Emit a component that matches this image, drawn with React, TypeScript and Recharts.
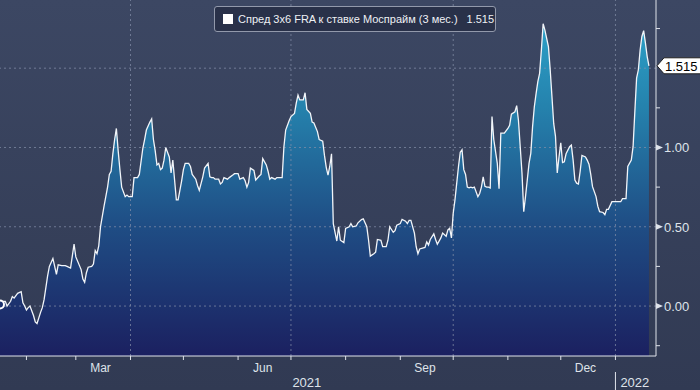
import { ComposedChart, Area, Line, XAxis, YAxis, ReferenceLine } from "recharts";

// days counted from 1 Jan 2021
const days = [
    16, 18, 19, 20, 22, 23, 24, 26, 28, 29,
    30, 31, 32, 33, 35, 36, 37, 39, 40, 41,
    43, 44, 46, 47, 48, 49, 51, 53, 54, 56,
    57, 58, 59, 62, 63, 64, 65, 66, 68, 69,
    70, 71, 72, 73, 75, 76, 77, 78, 79, 80,
    81, 82, 83, 84, 85, 87, 88, 89, 91, 92,
    94, 95, 97, 98, 99, 101, 102, 103, 104, 105,
    106, 107, 108, 109, 110, 111, 112, 113, 114, 116,
    117, 119, 120, 121, 123, 124, 125, 127, 128, 129,
    131, 132, 134, 135, 136, 137, 138, 140, 141, 142,
    143, 145, 146, 148, 149, 151, 152, 154, 155, 156,
    157, 158, 160, 161, 163, 164, 165, 167, 168, 169,
    170, 172, 173, 175, 176, 177, 178, 180, 181, 183,
    184, 185, 186, 188, 189, 190, 192, 193, 194, 196,
    197, 199, 200, 201, 202, 203, 204, 205, 207, 208,
    209, 211, 212, 214, 215, 216, 218, 219, 221, 222,
    224, 225, 226, 228, 229, 230, 232, 233, 235, 236,
    237, 239, 240, 241, 243, 244, 246, 247, 248, 249,
    251, 252, 253, 254, 257, 258, 259, 260, 262, 263,
    264, 266, 267, 269, 270, 271, 272, 273, 274, 275,
    276, 277, 278, 279, 280, 281, 282, 283, 284, 285,
    287, 288, 289, 290, 291, 292, 293, 294, 295, 296,
    298, 299, 300, 302, 304, 305, 306, 308, 309, 310,
    311, 312, 313, 314, 316, 317, 318, 319, 320, 321,
    322, 323, 324, 325, 327, 328, 329, 330, 331, 332,
    333, 334, 335, 336, 337, 339, 340, 341, 342, 343,
    344, 345, 346, 348, 349, 350, 351, 352, 354, 355,
    356, 358, 359, 360, 361, 363, 364, 366, 368, 369,
    371, 372, 374, 375, 376, 377, 378, 379, 380, 381,
    382, 383, 384
];

const spread = [
    0.01, 0.03, 0.03, 0.00, 0.03, 0.06, 0.05, 0.08, 0.09, 0.02,
    0.00, -0.025, -0.01, 0.00, -0.06, -0.10, -0.11, -0.04, -0.01, 0.04,
    0.19, 0.25, 0.30, 0.25, 0.20, 0.26, 0.255, 0.255, 0.25, 0.24,
    0.315, 0.39, 0.31, 0.23, 0.17, 0.15, 0.21, 0.245, 0.25, 0.265,
    0.35, 0.33, 0.38, 0.50, 0.63, 0.69, 0.75, 0.83, 0.85, 0.96,
    1.05, 1.12, 0.98, 0.86, 0.75, 0.69, 0.70, 0.69, 0.69, 0.81,
    0.81, 0.83, 0.995, 1.05, 1.11, 1.16, 1.18, 1.05, 0.98, 0.89,
    0.90, 0.86, 0.87, 0.92, 1.00, 0.97, 0.94, 0.84, 0.92, 0.67,
    0.67, 0.79, 0.86, 0.90, 0.90, 0.88, 0.83, 0.80, 0.76, 0.73,
    0.815, 0.87, 0.90, 0.815, 0.81, 0.81, 0.80, 0.80, 0.77, 0.78,
    0.81, 0.80, 0.81, 0.826, 0.835, 0.835, 0.80, 0.81, 0.79, 0.75,
    0.78, 0.87, 0.855, 0.795, 0.82, 0.83, 0.93, 0.89, 0.85, 0.80,
    0.81, 0.80, 0.81, 0.81, 0.81, 1.005, 1.11, 1.17, 1.195, 1.215,
    1.28, 1.33, 1.30, 1.30, 1.345, 1.24, 1.215, 1.16, 1.155, 1.10,
    1.05, 1.04, 0.95, 0.875, 0.826, 0.88, 0.96, 0.52, 0.41, 0.50,
    0.415, 0.40, 0.49, 0.50, 0.52, 0.50, 0.505, 0.525, 0.545, 0.55,
    0.50, 0.415, 0.315, 0.33, 0.34, 0.42, 0.415, 0.375, 0.375, 0.415,
    0.50, 0.465, 0.475, 0.51, 0.52, 0.547, 0.535, 0.52, 0.54, 0.54,
    0.46, 0.374, 0.33, 0.36, 0.37, 0.405, 0.385, 0.42, 0.455, 0.42,
    0.39, 0.43, 0.46, 0.44, 0.48, 0.49, 0.43, 0.585, 0.67, 0.775,
    0.88, 0.97, 0.985, 0.86, 0.83, 0.75, 0.745, 0.75, 0.745, 0.75,
    0.69, 0.71, 0.75, 0.815, 0.755, 0.75, 0.75, 0.745, 1.195, 1.05,
    0.90, 0.74, 1.09, 1.09, 1.12, 1.14, 1.21, 1.225, 1.264, 1.17,
    1.005, 0.84, 0.595, 0.69, 0.90, 0.963, 1.13, 1.257, 1.34, 1.415,
    1.468, 1.615, 1.78, 1.74, 1.636, 1.49, 1.32, 1.15, 1.07, 0.84,
    0.94, 1.03, 0.905, 0.91, 0.96, 1.005, 1.015, 0.92, 0.795, 0.775,
    0.77, 0.85, 0.95, 0.94, 0.92, 0.895, 0.83, 0.753, 0.69, 0.63,
    0.595, 0.59, 0.576, 0.61, 0.61, 0.658, 0.658, 0.658, 0.658, 0.677,
    0.677, 0.88, 0.92, 1.005, 1.226, 1.437, 1.49, 1.615, 1.70, 1.737,
    1.66, 1.573, 1.515
];

const monthStarts = [31, 59, 90, 120, 151, 181, 212, 243, 273, 304, 334, 365];
const monthLabelDays = [73, 165, 257, 348];
const monthLabels = ["Mar", "Jun", "Sep", "Dec"];
const yearLabelDays = [190, 376];
const yearLabels = ["2021", "2022"];
const quarterStarts = [90, 181, 273, 365];

const gridValues = [0, 0.5, 1, 1.5];
const majorTicks = [0, 0.5, 1];
const minorTicks = [-0.25, 0.25, 0.75, 1.25, 1.75];

const seriesName = "Спред 3x6 FRA к ставке Моспрайм (3 мес.)";

const data = days.map((d, i) => ({ day: d, value: spread[i] }));
const lastValue = spread[spread.length - 1];

const axisColor = "#dfe3ea";
const font = "'Liberation Sans', Arial, sans-serif";

function XTick(props: any) {
    const { x, y, payload } = props;
    const v = payload.value;
    if (monthStarts.includes(v)) {
        return (
            <g>
                <line x1={x} x2={x} y1={y} y2={y + 4} stroke={axisColor}/>
                {v === 365 && <line x1={x} x2={x} y1={y + 16} y2={y + 34} stroke={axisColor}/>}
            </g>
        );
    }
    const m = monthLabelDays.indexOf(v);
    if (m >= 0) {
        return (
            <text x={x} y={y + 16} textAnchor="middle" fill={axisColor} fontSize={12} fontFamily={font}>
                {monthLabels[m]}
            </text>
        );
    }
    const yr = yearLabelDays.indexOf(v);
    if (yr >= 0) {
        return (
            <text x={x} y={y + 31} textAnchor="middle" fill={axisColor} fontSize={13} fontFamily={font}>
                {yearLabels[yr]}
            </text>
        );
    }
    return <g/>;
}

function YTick(props: any) {
    const { x, y, payload } = props;
    const v = payload.value;
    if (v === lastValue) {
        const pts = `${x + 1},${y} ${x + 8},${y - 8} ${x + 50},${y - 8} ${x + 50},${y + 8} ${x + 8},${y + 8}`;
        return (
            <g>
                <polygon points={pts} fill="#ffffff" stroke="#222"/>
                <text x={x + 9} y={y + 5} fill="#000" fontSize={13} fontFamily={font}>
                    {lastValue.toFixed(3)}
                </text>
            </g>
        );
    }
    if (majorTicks.includes(v)) {
        return (
            <g>
                <polygon points={`${x},${y - 3} ${x + 7},${y} ${x},${y + 3}`} fill={axisColor}/>
                <text x={x + 8} y={y + 5} fill={axisColor} fontSize={13} fontFamily={font}>
                    {v.toFixed(2)}
                </text>
            </g>
        );
    }
    if (minorTicks.includes(v)) {
        return <line x1={x} x2={x + 4} y1={y} y2={y} stroke={axisColor}/>;
    }
    return <g/>;
}

export default function App() {
    return (
        <div style={{ position: "relative", width: 700, height: 390, background: "linear-gradient(#3c4763, #313a53)", overflow: "hidden" }}>
            <style>{"body{margin:0}"}</style>
            <ComposedChart width={700} height={390} data={data} margin={{ top: 0, right: 0, bottom: 0, left: 0 }}>
                <defs>
                    <linearGradient id="spreadFill" x1="0" y1="0" x2="0" y2="356" gradientUnits="userSpaceOnUse">
                        <stop offset="0" stopColor="#2ea9cf"/>
                        <stop offset="0.3" stopColor="#2582ad"/>
                        <stop offset="0.62" stopColor="#1f4f86"/>
                        <stop offset="1" stopColor="#1b2060"/>
                    </linearGradient>
                </defs>
                <XAxis
                    dataKey="day"
                    type="number"
                    domain={[16, 388]}
                    allowDataOverflow
                    ticks={[...monthStarts, ...monthLabelDays, ...yearLabelDays]}
                    interval={0}
                    tick={<XTick/>}
                    tickLine={false}
                    tickSize={0}
                    tickMargin={0}
                    height={34}
                    axisLine={{ stroke: axisColor }}
                />
                <YAxis
                    orientation="right"
                    type="number"
                    domain={[-0.315, 1.93]}
                    allowDataOverflow
                    ticks={[...minorTicks, ...majorTicks, 1.5, lastValue]}
                    interval={0}
                    tick={<YTick/>}
                    tickLine={false}
                    tickSize={0}
                    tickMargin={0}
                    width={44}
                    axisLine={{ stroke: axisColor }}
                />
                <Area
                    dataKey="value"
                    type="linear"
                    baseValue="dataMin"
                    stroke="none"
                    fill="url(#spreadFill)"
                    fillOpacity={1}
                    isAnimationActive={false}
                />
                {gridValues.map((g) => (
                    <ReferenceLine key={"h" + g} y={g} stroke="#8791ab" strokeOpacity={0.7} strokeDasharray="2 3"/>
                ))}
                {quarterStarts.map((q) => (
                    <ReferenceLine key={"v" + q} x={q} stroke="#8791ab" strokeOpacity={0.7} strokeDasharray="2 3"/>
                ))}
                <Line
                    dataKey="value"
                    type="linear"
                    stroke="#f2f5f9"
                    strokeWidth={1.3}
                    dot={false}
                    activeDot={false}
                    isAnimationActive={false}
                />
            </ComposedChart>
            <div style={{
                position: "absolute", left: 214, top: 6, width: 282, height: 26,
                background: "#293149", border: "1px solid #9299ab", borderRadius: 3,
                display: "flex", alignItems: "center", fontFamily: font, fontSize: 11,
                color: "#eef0f4", boxSizing: "border-box", whiteSpace: "nowrap"
            }}>
                <span style={{ display: "inline-block", flexShrink: 0, width: 10, height: 10, background: "#fff", marginLeft: 8, marginRight: 5 }}/>
                <span>{seriesName}</span>
                <span style={{ marginLeft: 9 }}>{lastValue.toFixed(3)}</span>
            </div>
        </div>
    );
}
